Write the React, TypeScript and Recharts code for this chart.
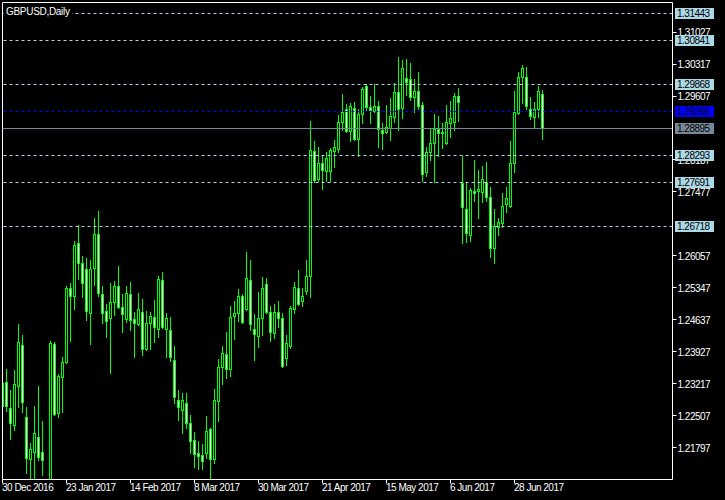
import React from 'react';
import { ComposedChart, Bar, XAxis, YAxis, ReferenceLine } from 'recharts';

const opens = [1.2273,1.2326,1.2268,1.2231,1.2317,1.2408,1.2248,1.2155,1.2171,1.2204,1.2171,1.2085,1.2040,1.2410,1.2257,1.2337,1.2370,1.2535,1.2517,1.2635,1.2590,1.2577,1.2479,1.2579,1.2655,1.2521,1.2484,1.2468,1.2504,1.2539,1.2493,1.2466,1.2521,1.2466,1.2455,1.2481,1.2399,1.2457,1.2470,1.2444,1.2552,1.2444,1.2441,1.2375,1.2286,1.2264,1.2279,1.2235,1.2197,1.2168,1.2164,1.2168,1.2222,1.2155,1.2284,1.2359,1.2388,1.2355,1.2472,1.2479,1.2517,1.2488,1.2552,1.2444,1.2428,1.2468,1.2544,1.2481,1.2435,1.2481,1.2468,1.2379,1.2406,1.2488,1.2535,1.2506,1.2528,1.2561,1.2839,1.2777,1.2812,1.2794,1.2794,1.2839,1.2843,1.2903,1.2932,1.2883,1.2934,1.2865,1.2921,1.2983,1.2936,1.2928,1.2939,1.2885,1.2881,1.2890,1.2914,1.2970,1.2934,1.3001,1.2999,1.2959,1.2972,1.2941,1.2792,1.2837,1.2857,1.2888,1.2881,1.2857,1.2901,1.2903,1.2961,1.2768,1.2710,1.2652,1.2750,1.2750,1.2748,1.2770,1.2737,1.2623,1.2670,1.2679,1.2721,1.2717,1.2812,1.2923,1.3003,1.3003,1.2932,1.2914,1.2932,1.2965];
const highs = [1.2328,1.2355,1.2308,1.2353,1.2455,1.2430,1.2271,1.2191,1.2273,1.2317,1.2239,1.2100,1.2417,1.2414,1.2344,1.2381,1.2539,1.2546,1.2639,1.2674,1.2606,1.2601,1.2597,1.2691,1.2705,1.2539,1.2499,1.2546,1.2550,1.2584,1.2521,1.2539,1.2548,1.2481,1.2524,1.2510,1.2484,1.2481,1.2508,1.2561,1.2570,1.2479,1.2470,1.2406,1.2308,1.2302,1.2302,1.2253,1.2215,1.2195,1.2188,1.2250,1.2224,1.2310,1.2377,1.2406,1.2437,1.2495,1.2506,1.2532,1.2521,1.2615,1.2597,1.2477,1.2526,1.2559,1.2557,1.2495,1.2499,1.2506,1.2479,1.2430,1.2495,1.2548,1.2575,1.2535,1.2597,1.2905,1.2861,1.2848,1.2830,1.2837,1.2845,1.2863,1.2919,1.2965,1.2943,1.2945,1.2948,1.2932,1.2981,1.2988,1.2961,1.2988,1.2950,1.2901,1.2941,1.2956,1.2990,1.3047,1.3041,1.3043,1.3034,1.2999,1.3014,1.2948,1.2848,1.2888,1.2921,1.2916,1.2901,1.2941,1.2950,1.2968,1.2979,1.2828,1.2768,1.2757,1.2819,1.2797,1.2806,1.2814,1.2759,1.2710,1.2690,1.2746,1.2759,1.2861,1.2972,1.3014,1.3030,1.3025,1.2959,1.2948,1.2983,1.2974];
const lows = [1.2257,1.2262,1.2199,1.2219,1.2270,1.2259,1.2124,1.2104,1.2080,1.2153,1.2120,1.1987,1.2030,1.2253,1.2248,1.2259,1.2368,1.2417,1.2488,1.2555,1.2515,1.2464,1.2410,1.2542,1.2517,1.2457,1.2426,1.2346,1.2475,1.2490,1.2437,1.2459,1.2441,1.2381,1.2452,1.2386,1.2397,1.2399,1.2415,1.2426,1.2446,1.2381,1.2373,1.2279,1.2242,1.2213,1.2224,1.2168,1.2137,1.2133,1.2133,1.2157,1.2111,1.2146,1.2239,1.2322,1.2335,1.2339,1.2421,1.2461,1.2457,1.2486,1.2441,1.2375,1.2404,1.2430,1.2479,1.2417,1.2424,1.2448,1.2359,1.2364,1.2401,1.2479,1.2497,1.2495,1.2521,1.2515,1.2770,1.2772,1.2754,1.2772,1.2772,1.2803,1.2837,1.2885,1.2881,1.2861,1.2863,1.2828,1.2901,1.2930,1.2901,1.2926,1.2848,1.2843,1.2879,1.2863,1.2903,1.2885,1.2912,1.2963,1.2952,1.2925,1.2932,1.2772,1.2783,1.2819,1.2770,1.2828,1.2845,1.2854,1.2870,1.2885,1.2905,1.2635,1.2637,1.2639,1.2727,1.2690,1.2726,1.2727,1.2603,1.2590,1.2652,1.2670,1.2703,1.2715,1.2792,1.2921,1.2945,1.2932,1.2910,1.2892,1.2914,1.2865];
const closes = [1.2324,1.2273,1.2235,1.2322,1.2415,1.2282,1.2157,1.2177,1.2213,1.2160,1.2153,1.2040,1.2413,1.2255,1.2340,1.2370,1.2535,1.2517,1.2630,1.2590,1.2546,1.2484,1.2577,1.2655,1.2524,1.2479,1.2461,1.2504,1.2539,1.2493,1.2477,1.2524,1.2464,1.2457,1.2488,1.2399,1.2457,1.2472,1.2448,1.2555,1.2448,1.2468,1.2381,1.2293,1.2270,1.2286,1.2235,1.2195,1.2166,1.2162,1.2151,1.2217,1.2155,1.2286,1.2359,1.2390,1.2355,1.2470,1.2479,1.2517,1.2459,1.2557,1.2455,1.2433,1.2468,1.2535,1.2481,1.2437,1.2481,1.2468,1.2361,1.2413,1.2490,1.2537,1.2499,1.2517,1.2561,1.2841,1.2774,1.2812,1.2797,1.2823,1.2841,1.2848,1.2903,1.2925,1.2883,1.2939,1.2865,1.2921,1.2976,1.2936,1.2930,1.2939,1.2888,1.2879,1.2892,1.2916,1.2970,1.2932,1.3023,1.2992,1.2959,1.2972,1.2939,1.2788,1.2837,1.2857,1.2888,1.2879,1.2879,1.2903,1.2912,1.2961,1.2948,1.2715,1.2657,1.2752,1.2746,1.2754,1.2777,1.2737,1.2623,1.2672,1.2681,1.2717,1.2734,1.2812,1.2925,1.3003,1.3023,1.2939,1.2916,1.2932,1.2972,1.28895];

const dateTicks = [0, 16, 32, 48, 64, 80, 96, 112, 128];
const dateLabels = ['30 Dec 2016', '23 Jan 2017', '14 Feb 2017', '8 Mar 2017', '30 Mar 2017', '21 Apr 2017', '15 May 2017', '6 Jun 2017', '28 Jun 2017'];
// scale ticks visible in the reference (1.28897 and 1.26767 are fully covered by level boxes there)
const priceTicks = [1.31027, 1.30317, 1.29607, 1.28187, 1.27477, 1.26057, 1.25347, 1.24637, 1.23927, 1.23217, 1.22507, 1.21797];
const levelPrices = [1.31443, 1.30841, 1.29868, 1.28293, 1.27691, 1.26718];
const bluePrice = 1.29266;
const bidPrice = 1.28895;
const yDomain = [1.21097, 1.31682];
const xDomain = [0, 167.5];

const data = opens.map((o, i) => ({ i, o, h: highs[i], l: lows[i], c: closes[i], range: [lows[i], highs[i]] }));

const levelColors: Record<string, string> = {};
levelPrices.forEach((v) => (levelColors[v.toFixed(5)] = '#add8e6'));
levelColors[bluePrice.toFixed(5)] = '#0000ff';
levelColors[bidPrice.toFixed(5)] = '#778899';
const axisTicks = [...priceTicks, ...levelPrices, bluePrice, bidPrice];

const FONT = '"Liberation Sans", Arial, sans-serif';
const GREEN = '#00ff00';

const Candle = (props: any) => {
  const { x, y, width, height, payload } = props;
  if (x == null || y == null || !payload) return null;
  const { o, h, l, c } = payload;
  const top = Math.min(y, y + height);
  const bottom = Math.max(y, y + height);
  const span = h - l || 1;
  const py = (v: number) => top + ((h - v) / span) * (bottom - top);
  const cx = Math.floor(x + width / 2);
  const yH = Math.round(top);
  const yL = Math.round(bottom);
  const yO = Math.round(py(o));
  const yC = Math.round(py(c));
  const bt = Math.min(yO, yC);
  const bb = Math.max(yO, yC);
  const bull = c >= o;
  return (
    <g>
      <line x1={cx + 0.5} x2={cx + 0.5} y1={yH} y2={yL + 1} stroke={GREEN} strokeWidth={1} />
      {bb - bt >= 1 ? (
        <rect x={cx - 0.5} y={bt + 0.5} width={2} height={bb - bt} fill={bull ? '#000' : '#fff'} stroke={GREEN} strokeWidth={1} />
      ) : (
        <line x1={cx - 1} x2={cx + 2} y1={bt + 0.5} y2={bt + 0.5} stroke={GREEN} strokeWidth={1} />
      )}
    </g>
  );
};

const DateTick = (props: any) => {
  const { x, y, payload } = props;
  const idx = dateTicks.indexOf(payload.value);
  return (
    <text x={x - 0.5} y={y + 7.5} fill="#fff" fontSize={10} fontFamily={FONT} textAnchor="start" style={{ letterSpacing: '-0.5px' }}>
      {idx >= 0 ? dateLabels[idx] : ''}
    </text>
  );
};

const PriceTick = (props: any) => {
  const { x, y, payload } = props;
  const key = Number(payload.value).toFixed(5);
  const bg = levelColors[key];
  const yy = Math.floor(y);
  if (bg) {
    return (
      <g>
        <rect x={x - 2.5} y={yy - 5} width={39} height={11} fill={bg} />
        <text x={x - 0.5} y={yy + 0.5} dy="0.355em" fill="#000" fontSize={10} fontFamily={FONT} style={{ letterSpacing: '-0.5px' }}>
          {key}
        </text>
      </g>
    );
  }
  return (
    <g>
      <line x1={x - 5} x2={x - 1} y1={yy + 0.5} y2={yy + 0.5} stroke="#fff" strokeWidth={1} />
      <text x={x} y={y} dy="0.355em" fill="#fff" fontSize={10} fontFamily={FONT} textAnchor="start" style={{ letterSpacing: '-0.5px' }}>
        {key}
      </text>
    </g>
  );
};

const crispLine = (dash?: string) => (props: any) => {
  const { x1, x2, y1 } = props;
  const yy = Math.floor(y1) + 0.5;
  return <line x1={x1} x2={x2} y1={yy} y2={yy} stroke={props.stroke} strokeWidth={1} strokeDasharray={dash} />;
};

export default function App() {
  return (
    <div style={{ position: 'absolute', left: 0, top: 0, width: 725, height: 500, background: '#000', overflow: 'hidden' }}>
      <ComposedChart width={725} height={500} data={data} margin={{ top: 2.5, right: 0, bottom: 0, left: 2.5 }}>
        <XAxis
          type="number"
          dataKey="i"
          domain={xDomain}
          allowDataOverflow
          ticks={dateTicks}
          interval={0}
          height={20.5}
          tickSize={4}
          tickMargin={0}
          axisLine={{ stroke: '#fff' }}
          tickLine={{ stroke: '#fff' }}
          tick={<DateTick />}
        />
        <YAxis
          orientation="right"
          type="number"
          domain={yDomain}
          allowDataOverflow
          ticks={axisTicks}
          interval={0}
          width={52.5}
          tickSize={4}
          tickMargin={1}
          axisLine={{ stroke: '#fff' }}
          tickLine={false}
          tick={<PriceTick />}
        />
        <ReferenceLine y={yDomain[1]} stroke="#fff" />
        <ReferenceLine x={xDomain[0]} stroke="#fff" />
        <Bar dataKey="range" barSize={3} isAnimationActive={false} shape={(p: any) => <Candle {...p} />} />
        {levelPrices.map((v) => (
          <ReferenceLine key={v} y={v} stroke="#add8e6" shape={crispLine('3 3')} />
        ))}
        <ReferenceLine y={bluePrice} stroke="#0000ff" shape={crispLine('3 3')} />
        <ReferenceLine y={bidPrice} stroke="#778899" shape={crispLine()} />
      </ComposedChart>
      <div style={{ position: 'absolute', left: 4, top: 6, height: 12, padding: '0 2px', background: '#000', color: '#fff', fontFamily: FONT, fontSize: 10, lineHeight: '12px', letterSpacing: '-0.3px' }}>
        GBPUSD,Daily
      </div>
    </div>
  );
}
